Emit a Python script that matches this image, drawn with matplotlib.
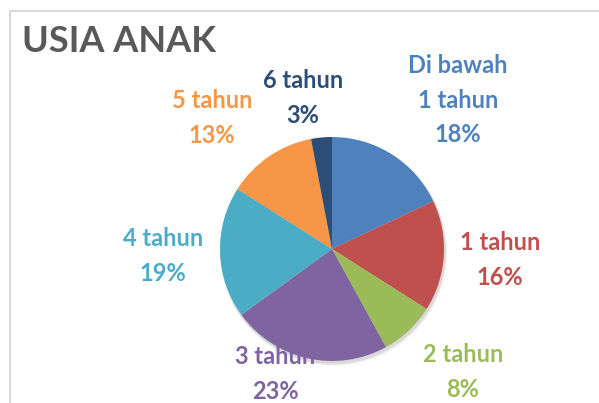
import matplotlib.pyplot as plt
from matplotlib.patches import Rectangle, Circle

# data
kategori = ["Di bawah\n1 tahun", "1 tahun", "2 tahun", "3 tahun", "4 tahun", "5 tahun", "6 tahun"]
persen = [18, 16, 8, 23, 19, 13, 3]
warna = ["#4F81BD", "#C0504D", "#9BBB59", "#8064A2", "#4BACC6", "#F79646", "#2C4D75"]

# label positions in pixels (x, y from top)
pos_label = [(458, 100), (500, 260), (463, 372), (275, 374), (163, 256), (212, 118), (303, 98)]

W, H = 599, 403
fig = plt.figure(figsize=(W / 100, H / 100), dpi=100)
ax = fig.add_axes([0, 0, 1, 1])

# chart frame
ax.add_patch(Rectangle((10, -20), 620, H - 11 + 20, fill=False, ec="#D9D9D9", lw=1.5))

cx, cy, r = 332, H - 249, 112

# soft shadow
for k, a in [(4, 0.03), (3, 0.05), (2, 0.07)]:
    ax.add_patch(Circle((cx + k * 0.5, cy - k), r + 1, color="black", alpha=a, lw=0))

ax.pie(persen, colors=warna, startangle=90, counterclock=False,
       center=(cx, cy), radius=r, frame=True)
ax.set_xlim(0, W)
ax.set_ylim(0, H)
ax.set_aspect('equal')
ax.axis('off')

for lab, p, c, (x, y) in zip(kategori, persen, warna, pos_label):
    ax.text(x, H - y, f"{lab}\n{p}%", color=c, ha="center", va="center",
            fontsize=17, fontweight="bold", family="Lato", linespacing=1.58)

ax.text(22, H - 42, "USIA ANAK", color="#595959", ha="left", va="center",
        fontsize=26, fontweight="bold", family="Lato")

fig.savefig("out.png", dpi=100)
